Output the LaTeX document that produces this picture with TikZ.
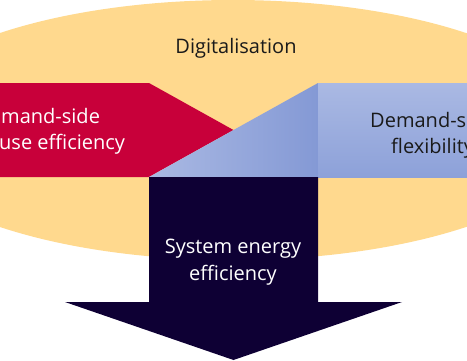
\documentclass[tikz,border=0pt]{standalone}
\usepackage{fontspec}
\setmainfont{Open Sans}
\usepackage{tikz}
\usepackage{xcolor}

\definecolor{digiyellow}{RGB}{255,217,142}
\definecolor{effred}{RGB}{200,0,58}
\definecolor{sysnavy}{RGB}{14,0,52}
\definecolor{flexlight}{RGB}{170,185,227}
\definecolor{flexdark}{RGB}{132,153,213}
\definecolor{flexmid}{RGB}{141,161,217}
\definecolor{darktext}{RGB}{26,26,26}

\begin{document}
\begin{tikzpicture}[
    x=1pt,
    y=-1pt,
    lbl/.style={inner sep=0pt,font=\fontsize{20}{26}\selectfont},
    darklbl/.style={lbl,text=darktext},
    lightlbl/.style={lbl,text=white},
    flexwedge/.style={left color=flexlight,right color=flexdark,draw=none},
    flexbar/.style={top color=flexlight,bottom color=flexmid,draw=none}
  ]
    \useasboundingbox (0,0) rectangle (467,360);
    \clip (0,0) rectangle (467,360);

    % background field
    \fill[digiyellow] (233,130) ellipse [x radius=350,y radius=130];
    \node[darklbl,anchor=base] (digital) at (236,53) {Digitalisation};

    % two contributions meeting in the middle
    \fill[effred] (-5,83) -- (149,83) -- (233.5,130) -- (149,177) -- (-5,177) -- cycle;
    \shade[flexwedge] (149,177) -- (318,83) -- (318,177) -- cycle;
    \shade[flexbar] (318,83) rectangle (475,177);

    \node[lightlbl,anchor=base west] (useeffa) at (1,123) {mand-side};
    \node[lightlbl,anchor=base west] (useeffb) at (-1,149) {use efficiency};
    \node[darklbl,anchor=base west] (flexa) at (370,127) {Demand-s};
    \node[darklbl,anchor=base west] (flexb) at (391,153) {flexibility};

    % resulting arrow
    \fill[sysnavy] (149,177) -- (318,177) -- (318,302) -- (402,302)
      -- (233.5,360) -- (65,302) -- (149,302) -- cycle;
    \node[lightlbl,anchor=base] (sysa) at (233,253) {System energy};
    \node[lightlbl,anchor=base] (sysb) at (233,280) {efficiency};
  \end{tikzpicture}
\end{document}
